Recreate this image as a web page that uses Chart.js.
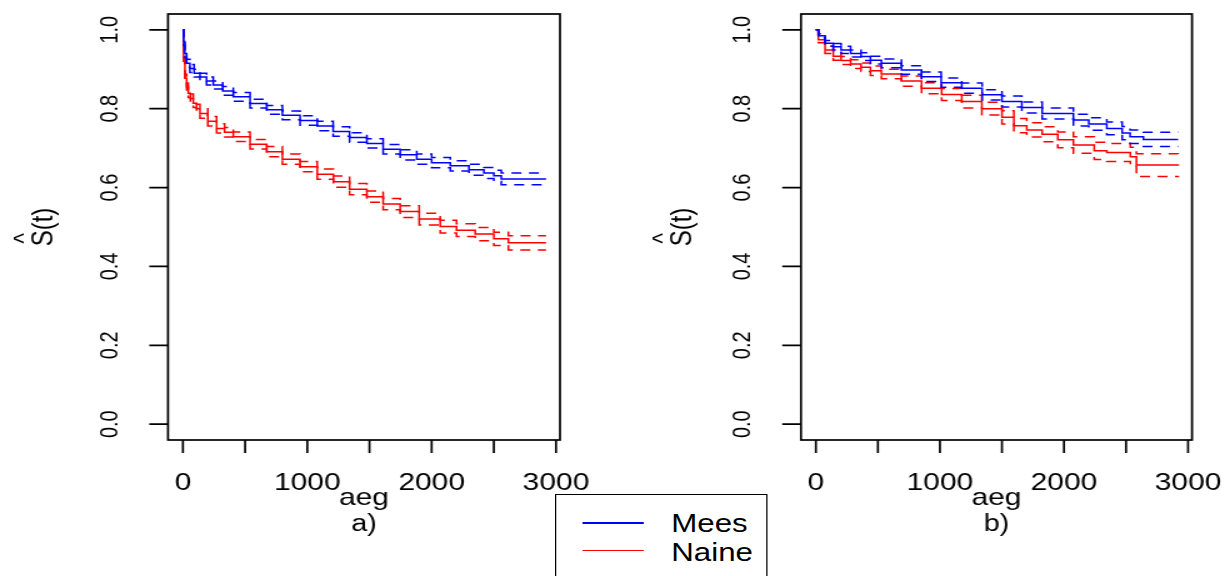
<!DOCTYPE html>
<html>
<head>
<meta charset="utf-8">
<script src="https://cdn.jsdelivr.net/npm/chart.js@4"></script>
<style>
  html, body { margin: 0; padding: 0; background: #fff; overflow: hidden; }
  #wrap { position: absolute; left: 0; top: 0; width: 984px; height: 576px;
          transform: scaleX(1.25); transform-origin: 0 0; }
  .panel { position: absolute; top: 0; width: 492px; height: 576px; }
  #legend { position: absolute; left: 444px; top: 494px; width: 170px; height: 120px;
            box-sizing: border-box; border: 1.7px solid #000; background: #fff;
            font-family: "Liberation Sans", Arial, sans-serif; font-size: 25px; color: #000; }
  #legend .ln { position: absolute; left: 21px; width: 49px; height: 1.5px; }
  #legend .tx { position: absolute; left: 92px; line-height: 25px; white-space: nowrap; }
</style>
</head>
<body>
<div id="wrap">
  <div class="panel" style="left:0"><canvas id="pa"></canvas></div>
  <div class="panel" style="left:492px"><canvas id="pb"></canvas></div>
  <div id="legend"></div>
</div>
<script>
// axes
const xTicks = [0, 500, 1000, 1500, 2000, 2500, 3000];
const xLabels = [0, 1000, 2000, 3000];
const yTicks = [0, 0.2, 0.4, 0.6, 0.8, 1.0];
const yLabels = ["0.0", "0.2", "0.4", "0.6", "0.8", "1.0"];
const groups = ["Mees", "Naine"];
const groupColors = ["#0000ff", "#ff0000"];
const panelNames = ["a)", "b)"];

// a) Mees
const aMeesT  = [0, 5, 15, 30, 56, 90, 137, 190, 244, 320, 405, 540, 674, 800, 942, 1080, 1208, 1340, 1479, 1610, 1747, 1880, 2000, 2150, 2300, 2420, 2500, 2560, 2920];
const aMeesS  = [1.0, 0.97, 0.94, 0.915, 0.902, 0.89, 0.88, 0.87, 0.86, 0.845, 0.83, 0.813, 0.797, 0.783, 0.77, 0.756, 0.742, 0.727, 0.712, 0.697, 0.683, 0.672, 0.663, 0.655, 0.645, 0.637, 0.63, 0.622, 0.622];
const aMeesHi = [1.0, 0.98, 0.95, 0.925, 0.912, 0.90, 0.89, 0.88, 0.87, 0.856, 0.841, 0.824, 0.808, 0.794, 0.782, 0.768, 0.754, 0.739, 0.724, 0.709, 0.696, 0.685, 0.676, 0.668, 0.659, 0.651, 0.644, 0.637, 0.637];
const aMeesLo = [1.0, 0.96, 0.93, 0.905, 0.892, 0.88, 0.87, 0.86, 0.85, 0.834, 0.819, 0.802, 0.786, 0.772, 0.758, 0.744, 0.730, 0.715, 0.700, 0.685, 0.670, 0.659, 0.650, 0.642, 0.631, 0.623, 0.616, 0.607, 0.607];
// a) Naine
const aNaineT  = [0, 5, 16, 30, 43, 60, 83, 110, 137, 200, 271, 335, 405, 540, 674, 800, 942, 1080, 1210, 1340, 1479, 1610, 1747, 1900, 2069, 2200, 2350, 2500, 2617, 2920];
const aNaineS  = [1.0, 0.93, 0.877, 0.855, 0.839, 0.826, 0.814, 0.80, 0.788, 0.768, 0.750, 0.740, 0.729, 0.710, 0.691, 0.672, 0.653, 0.634, 0.615, 0.596, 0.577, 0.558, 0.539, 0.52, 0.501, 0.492, 0.482, 0.47, 0.46, 0.46];
const aNaineHi = [1.0, 0.94, 0.887, 0.865, 0.85, 0.837, 0.825, 0.811, 0.80, 0.78, 0.762, 0.752, 0.741, 0.722, 0.704, 0.685, 0.666, 0.647, 0.629, 0.61, 0.591, 0.572, 0.554, 0.535, 0.517, 0.508, 0.499, 0.487, 0.478, 0.478];
const aNaineLo = [1.0, 0.92, 0.867, 0.845, 0.828, 0.815, 0.803, 0.789, 0.776, 0.756, 0.738, 0.728, 0.717, 0.698, 0.678, 0.659, 0.64, 0.621, 0.601, 0.582, 0.563, 0.544, 0.524, 0.505, 0.485, 0.476, 0.465, 0.453, 0.442, 0.442];
// b) Mees
const bMeesT  = [0, 20, 74, 140, 203, 280, 364, 440, 528, 690, 852, 1010, 1176, 1340, 1500, 1660, 1824, 2076, 2200, 2345, 2469, 2533, 2640, 2920];
const bMeesS  = [1.0, 0.985, 0.966, 0.957, 0.949, 0.94, 0.932, 0.923, 0.915, 0.898, 0.881, 0.866, 0.852, 0.835, 0.818, 0.803, 0.788, 0.771, 0.761, 0.750, 0.738, 0.729, 0.722, 0.722];
const bMeesHi = [1.0, 0.99, 0.973, 0.965, 0.958, 0.949, 0.942, 0.933, 0.926, 0.909, 0.893, 0.878, 0.865, 0.848, 0.832, 0.817, 0.802, 0.786, 0.777, 0.766, 0.755, 0.746, 0.740, 0.740];
const bMeesLo = [1.0, 0.98, 0.959, 0.949, 0.94, 0.931, 0.922, 0.913, 0.904, 0.887, 0.869, 0.854, 0.839, 0.822, 0.804, 0.789, 0.774, 0.756, 0.745, 0.734, 0.721, 0.712, 0.704, 0.704];
// b) Naine
const bNaineT  = [0, 20, 74, 140, 203, 280, 364, 440, 528, 690, 852, 1014, 1176, 1338, 1500, 1596, 1700, 1824, 1950, 2076, 2244, 2345, 2535, 2584, 2920];
const bNaineS  = [1.0, 0.975, 0.949, 0.933, 0.922, 0.913, 0.905, 0.896, 0.888, 0.870, 0.852, 0.836, 0.818, 0.800, 0.778, 0.757, 0.746, 0.735, 0.721, 0.708, 0.693, 0.689, 0.678, 0.657, 0.655];
const bNaineHi = [1.0, 0.983, 0.958, 0.943, 0.932, 0.924, 0.916, 0.908, 0.900, 0.883, 0.866, 0.851, 0.834, 0.816, 0.795, 0.775, 0.764, 0.754, 0.741, 0.729, 0.715, 0.712, 0.702, 0.686, 0.685];
const bNaineLo = [1.0, 0.967, 0.94, 0.923, 0.912, 0.902, 0.894, 0.884, 0.876, 0.857, 0.838, 0.821, 0.802, 0.784, 0.761, 0.739, 0.728, 0.716, 0.701, 0.687, 0.671, 0.666, 0.654, 0.628, 0.626];

const FONT = '"Liberation Sans", Arial, sans-serif';

// R-like box, ticks and labels
const rAxes = {
  id: "rAxes",
  afterDraw(chart, args, opts) {
    const { ctx, chartArea: a, scales: { x, y } } = chart;
    ctx.save();
    ctx.strokeStyle = "#000";
    ctx.lineWidth = 1.7;
    ctx.strokeRect(a.left, a.top, a.right - a.left, a.bottom - a.top);
    ctx.beginPath();
    xTicks.forEach(v => {
      const px = x.getPixelForValue(v);
      ctx.moveTo(px, a.bottom);
      ctx.lineTo(px, a.bottom + 13);
    });
    yTicks.forEach(v => {
      const py = y.getPixelForValue(v);
      ctx.moveTo(a.left, py);
      ctx.lineTo(a.left - 15, py);
    });
    ctx.stroke();

    ctx.fillStyle = "#000";
    ctx.textAlign = "center";
    ctx.textBaseline = "alphabetic";
    ctx.font = "24px " + FONT;
    xLabels.forEach(v => ctx.fillText(String(v), x.getPixelForValue(v), 490));
    const cx = (a.left + a.right) / 2;
    ctx.fillText("aeg", cx, 505);
    ctx.font = "23px " + FONT;
    ctx.fillText(opts.name, cx, 531);

    ctx.font = "20px " + FONT;
    yTicks.forEach((v, i) => {
      ctx.save();
      ctx.translate(a.left - 40.5, y.getPixelForValue(v));
      ctx.rotate(-Math.PI / 2);
      ctx.fillText(yLabels[i], 0, 0);
      ctx.restore();
    });

    // y title: S(t) with hat
    ctx.font = "24px " + FONT;
    ctx.save();
    ctx.translate(a.left - opts.titleOff, (a.top + a.bottom) / 2);
    ctx.rotate(-Math.PI / 2);
    ctx.fillText("S(t)", 0, 0);
    const w = ctx.measureText("S(t)").width;
    const ws = ctx.measureText("S").width;
    ctx.font = "22px " + FONT;
    ctx.fillText("^", -w / 2 + ws / 2, -16);
    ctx.restore();
    ctx.restore();
  }
};

function pts(t, s) {
  return t.map((v, i) => ({ x: v, y: s[i] }));
}

function curveSets(t, s, hi, lo, color) {
  const base = { borderColor: color, borderWidth: 1.5, stepped: "before", pointRadius: 0, fill: false };
  return [
    Object.assign({ data: pts(t, s) }, base),
    Object.assign({ data: pts(t, hi), borderDash: [8, 6] }, base),
    Object.assign({ data: pts(t, lo), borderDash: [8, 6] }, base)
  ];
}

function makePanel(id, datasets, pad, name, titleOff) {
  return new Chart(document.getElementById(id), {
    type: "line",
    data: { datasets },
    options: {
      responsive: true,
      maintainAspectRatio: false,
      animation: false,
      layout: { padding: pad },
      plugins: { legend: { display: false }, tooltip: { enabled: false }, rAxes: { name, titleOff } },
      scales: {
        x: { type: "linear", min: -120, max: 3032, display: false },
        y: { type: "linear", min: -0.04, max: 1.04, display: false }
      }
    },
    plugins: [rAxes]
  });
}

makePanel("pa",
  curveSets(aMeesT, aMeesS, aMeesHi, aMeesLo, groupColors[0])
    .concat(curveSets(aNaineT, aNaineS, aNaineHi, aNaineLo, groupColors[1])),
  { left: 134.4, right: 44, top: 14, bottom: 136 }, panelNames[0], 92);

makePanel("pb",
  curveSets(bMeesT, bMeesS, bMeesHi, bMeesLo, groupColors[0])
    .concat(curveSets(bNaineT, bNaineS, bNaineHi, bNaineLo, groupColors[1])),
  { left: 148.8, right: 30.4, top: 14, bottom: 136 }, panelNames[1], 88);

// legend
const leg = document.getElementById("legend");
groups.forEach((g, i) => {
  const ln = document.createElement("div");
  ln.className = "ln";
  ln.style.top = (27 + i * 27.5) + "px";
  ln.style.background = groupColors[i];
  leg.appendChild(ln);
  const tx = document.createElement("div");
  tx.className = "tx";
  tx.style.top = (16 + i * 28.7) + "px";
  tx.textContent = g;
  leg.appendChild(tx);
});
</script>
</body>
</html>
